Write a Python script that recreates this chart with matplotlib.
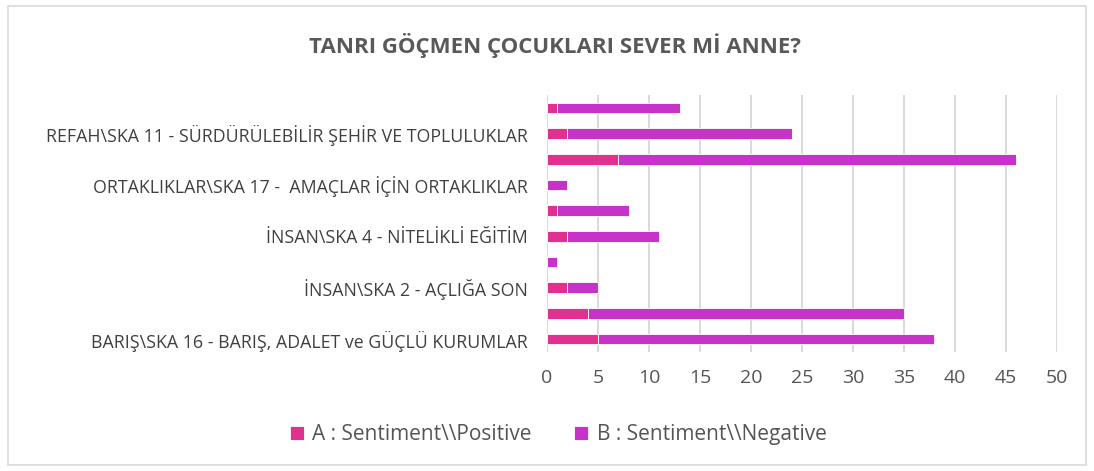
import matplotlib.pyplot as plt
import numpy as np

# categories from bottom to top, only every other one is labelled in the chart
categories = ['BARIŞ\\SKA 16 - BARIŞ, ADALET ve GÜÇLÜ KURUMLAR', '',
              'İNSAN\\SKA 2 - AÇLIĞA SON', '',
              'İNSAN\\SKA 4 - NİTELİKLİ EĞİTİM', '',
              'ORTAKLIKLAR\\SKA 17 -  AMAÇLAR İÇİN ORTAKLIKLAR', '',
              'REFAH\\SKA 11 - SÜRDÜRÜLEBİLİR ŞEHİR VE TOPLULUKLAR', '']
positive = [5, 4, 2, 0, 2, 1, 0, 7, 2, 1]
negative = [33, 31, 3, 1, 9, 7, 2, 39, 22, 12]
xticks = [0, 5, 10, 15, 20, 25, 30, 35, 40, 45, 50]

plt.rcParams['font.family'] = ['Open Sans', 'DejaVu Sans']

fig = plt.figure(figsize=(10.94, 4.71), dpi=100)
ax = fig.add_axes([0.5, 0.253, 0.466, 0.545])

y = np.arange(len(categories))
ax.barh(y, positive, height=0.42, color='#E2308E', edgecolor='white', linewidth=0.6,
        label='A : Sentiment\\\\Positive', zorder=3)
ax.barh(y, negative, left=positive, height=0.42, color='#C733C9', edgecolor='white',
        linewidth=0.6, label='B : Sentiment\\\\Negative', zorder=3)

ax.set_ylim(-0.5, len(categories) - 0.5)
ax.set_xlim(0, 50)
ax.set_xticks(xticks)
ax.set_yticks(y)
ax.set_yticklabels(categories, fontsize=12.8, color='#404040')
ax.tick_params(axis='x', labelsize=14, colors='#555555', length=0, pad=12)
ax.tick_params(axis='y', length=0, pad=14)
ax.grid(axis='x', color='#d9d9d9', linewidth=1.4, zorder=0)
for s in ['top', 'right', 'bottom', 'left']:
    ax.spines[s].set_visible(False)

fig.text(0.507, 0.903, 'TANRI GÖÇMEN ÇOCUKLARI SEVER Mİ ANNE?', ha='center', va='center',
         fontsize=16, fontweight='bold', color='#595959')

handles, labels = ax.get_legend_handles_labels()
fig.legend(handles, labels, loc='center', bbox_to_anchor=(0.51, 0.077), ncol=2,
           frameon=False, fontsize=15, handlelength=0.7, handleheight=0.7,
           columnspacing=2.0, handletextpad=0.4, labelcolor='#555555')

# outer chart border
border = plt.Rectangle((0.007, 0.012), 0.986, 0.976, transform=fig.transFigure,
                       fill=False, edgecolor='#d9d9d9', linewidth=1.2)
fig.add_artist(border)

fig.savefig('out.png', dpi=100)
